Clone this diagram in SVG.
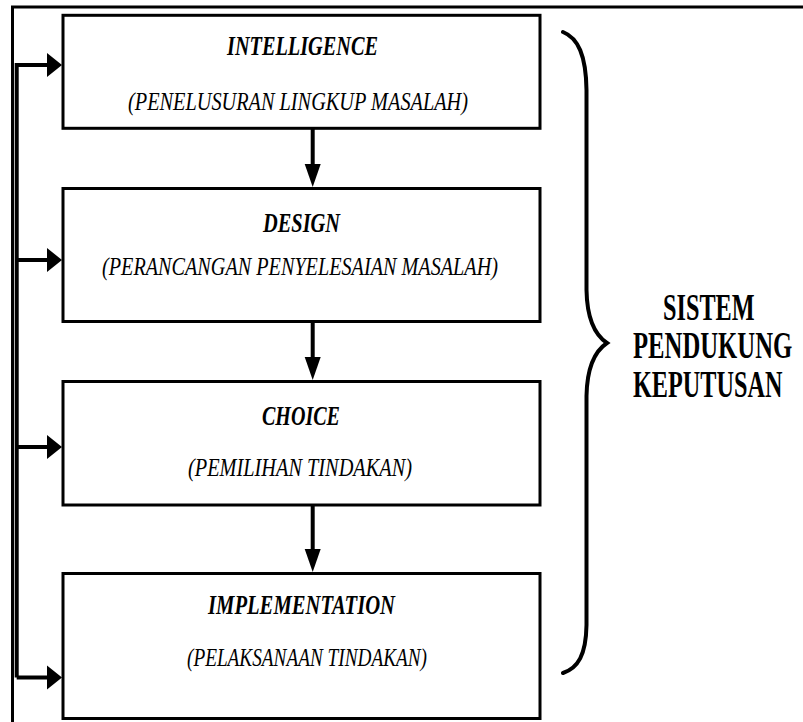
<svg xmlns="http://www.w3.org/2000/svg" width="803" height="722" viewBox="0 0 803 722">
  <style>
    .frame { fill: none; stroke: #000; stroke-width: 3; }
    .box { fill: #fff; stroke: #000; stroke-width: 3; }
    .link { fill: none; stroke: #000; stroke-width: 4; }
    .head { fill: #000; stroke: none; }
    .title { font-family: 'Liberation Serif', 'DejaVu Serif', serif; font-style: italic; font-weight: bold; font-size: 28px; fill: #000; }
    .sub { font-family: 'Liberation Serif', 'DejaVu Serif', serif; font-style: italic; font-size: 26px; fill: #000; }
    .side { font-family: 'Liberation Serif', 'DejaVu Serif', serif; font-weight: bold; font-size: 37px; fill: #000; }
    .brace { fill: none; stroke: #000; stroke-width: 4; stroke-linecap: round; }
  </style>
  <rect width="803" height="722" fill="#fff"/>

  <!-- outer frame, open past the right and bottom edges -->
  <rect class="frame" x="12.5" y="7" width="900" height="900"/>

  <g id="connectors">
    <!-- feedback bus on the left -->
    <path class="link" d="M16.7,677.5 L16.7,65 L49,65"/>
    <line class="link" x1="16.7" y1="260" x2="49" y2="260"/>
    <line class="link" x1="16.7" y1="447" x2="49" y2="447"/>
    <line class="link" x1="16.7" y1="677.5" x2="49" y2="677.5"/>
    <polygon class="head" points="62,65 47,53 47,77"/>
    <polygon class="head" points="62,260 47,248 47,272"/>
    <polygon class="head" points="62,447 47,435 47,459"/>
    <polygon class="head" points="62,677.5 47,665.5 47,689.5"/>

    <!-- downward flow between phases -->
    <line class="link" x1="312.7" y1="129" x2="312.7" y2="166"/>
    <polygon class="head" points="312.7,187 304.7,164 320.7,164"/>
    <line class="link" x1="312.7" y1="322" x2="312.7" y2="360"/>
    <polygon class="head" points="312.7,380 304.7,357 320.7,357"/>
    <line class="link" x1="312.7" y1="506" x2="312.7" y2="552"/>
    <polygon class="head" points="312.7,572 304.7,549 320.7,549"/>
  </g>

  <g id="intelligence">
    <rect class="box" x="63" y="15.3" width="477" height="113"/>
    <text class="title" x="227" y="55" textLength="151" lengthAdjust="spacingAndGlyphs">INTELLIGENCE</text>
    <text class="sub" x="128" y="110" textLength="340" lengthAdjust="spacingAndGlyphs">(PENELUSURAN LINGKUP MASALAH)</text>
  </g>

  <g id="design">
    <rect class="box" x="63" y="188.5" width="477" height="133"/>
    <text class="title" x="263" y="232" textLength="77" lengthAdjust="spacingAndGlyphs">DESIGN</text>
    <text class="sub" x="102" y="275" textLength="396" lengthAdjust="spacingAndGlyphs">(PERANCANGAN PENYELESAIAN MASALAH)</text>
  </g>

  <g id="choice">
    <rect class="box" x="63" y="381.5" width="477" height="123.5"/>
    <text class="title" x="262" y="425" textLength="78" lengthAdjust="spacingAndGlyphs">CHOICE</text>
    <text class="sub" x="188" y="476" textLength="224" lengthAdjust="spacingAndGlyphs">(PEMILIHAN TINDAKAN)</text>
  </g>

  <g id="implementation">
    <rect class="box" x="63" y="573.5" width="477" height="145"/>
    <text class="title" x="208" y="614" textLength="187" lengthAdjust="spacingAndGlyphs">IMPLEMENTATION</text>
    <text class="sub" x="187" y="666" textLength="240" lengthAdjust="spacingAndGlyphs">(PELAKSANAAN TINDAKAN)</text>
  </g>

  <g id="sistem-pendukung-keputusan">
    <path class="brace" d="M563,32 C578,38 586,55 586.5,90 L586.5,290 C587,318 595,335 607,343 C595,351 587,368 586.5,396 L586.5,625 C586,655 578,668 563,673"/>
    <!-- narrow bold caption: horizontally condensed -->
    <text class="side" transform="translate(663,320) scale(0.655,1)">SISTEM</text>
    <text class="side" transform="translate(633,358) scale(0.668,1)">PENDUKUNG</text>
    <text class="side" transform="translate(633,397) scale(0.655,1)">KEPUTUSAN</text>
  </g>
</svg>
